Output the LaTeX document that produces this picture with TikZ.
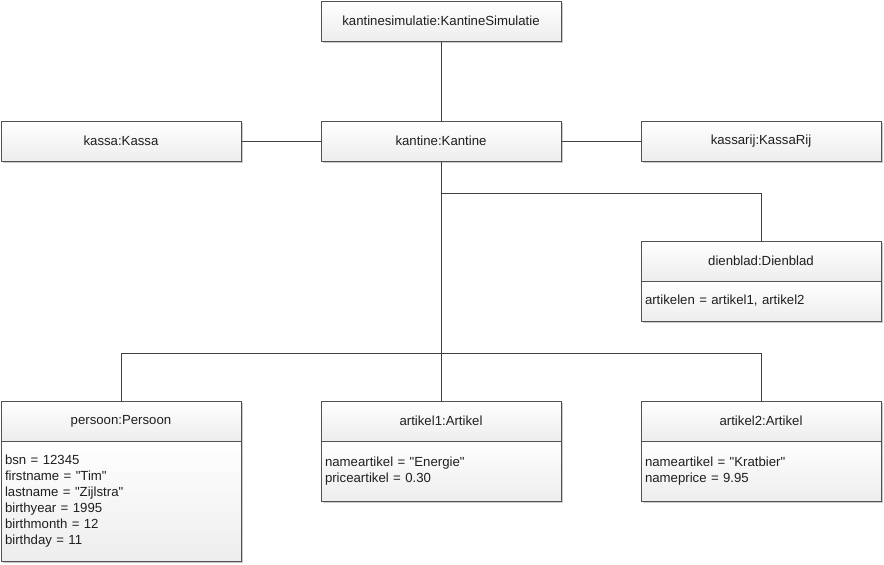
\documentclass[tikz,border=0pt]{standalone}
\usepackage{fontspec}
\setmainfont{Liberation Sans}
\usetikzlibrary{shadows}
\newcommand{\qt}[1]{\textquotedbl#1\textquotedbl}
\tikzset{
	objhead/.style={draw=black!68, line width=0.75pt, top color=white, bottom color=black!7,
		minimum width=180pt, minimum height=30pt, inner sep=0pt,
		font=\fontsize{9.9}{12}\selectfont, text=black!88,
		drop shadow={shadow xshift=1.3pt, shadow yshift=-1.3pt, fill=black!35, opacity=0.6}},
	objattr/.style={objhead, align=left, text width=174pt, inner xsep=2.5pt},
	link/.style={line width=0.75pt, color=black!75}
}

\begin{document}
\begin{tikzpicture}[x=0.75pt, y=-0.75pt]
			%%%%% START %%%%%
			\useasboundingbox (0, 0) rectangle (884, 564);
			
			\node[objhead] (sim) at (441, 21) {kantinesimulatie:KantineSimulatie};
			
			\node[objhead] (kassa) at (121, 141) {kassa:Kassa};
			\node[objhead] (kantine) at (441, 141) {kantine:Kantine};
			\node[objhead] (kassarij) at (761, 141) {kassarij:KassaRij};
			
			\node[objhead] (dienblad) at (761, 261) {dienblad:Dienblad};
			\node[objattr, minimum height=30pt] (dienbladattr) at (761, 301) {artikelen = artikel1, artikel2};
			
			\node[objhead] (persoon) at (121, 421) {persoon:Persoon};
			\node[objattr, minimum height=90pt] (persoonattr) at (121, 501) {bsn = 12345\\firstname = \qt{Tim}\\lastname = \qt{Zijlstra}\\birthyear = 1995\\birthmonth = 12\\birthday = 11};
			
			\node[objhead] (artikel1) at (441, 421) {artikel1:Artikel};
			\node[objattr, minimum height=45pt] (artikel1attr) at (441, 471) {nameartikel = \qt{Energie}\\priceartikel = 0.30};
			
			\node[objhead] (artikel2) at (761, 421) {artikel2:Artikel};
			\node[objattr, minimum height=45pt] (artikel2attr) at (761, 471) {nameartikel = \qt{Kratbier}\\nameprice = 9.95};
			
			\coordinate (split1) at (441, 193);
			\coordinate (split2) at (441, 353);
			
			\draw[link] (sim) -- (kantine);
			\draw[link] (kassa) -- (kantine);
			\draw[link] (kantine) -- (kassarij);
			\draw[link] (kantine) -- (artikel1);
			\draw[link] (split1) -| (dienblad);
			\draw[link] (split2) -| (persoon);
			\draw[link] (split2) -| (artikel2);
			
			%%%%% END %%%%%
\end{tikzpicture}
\end{document}
